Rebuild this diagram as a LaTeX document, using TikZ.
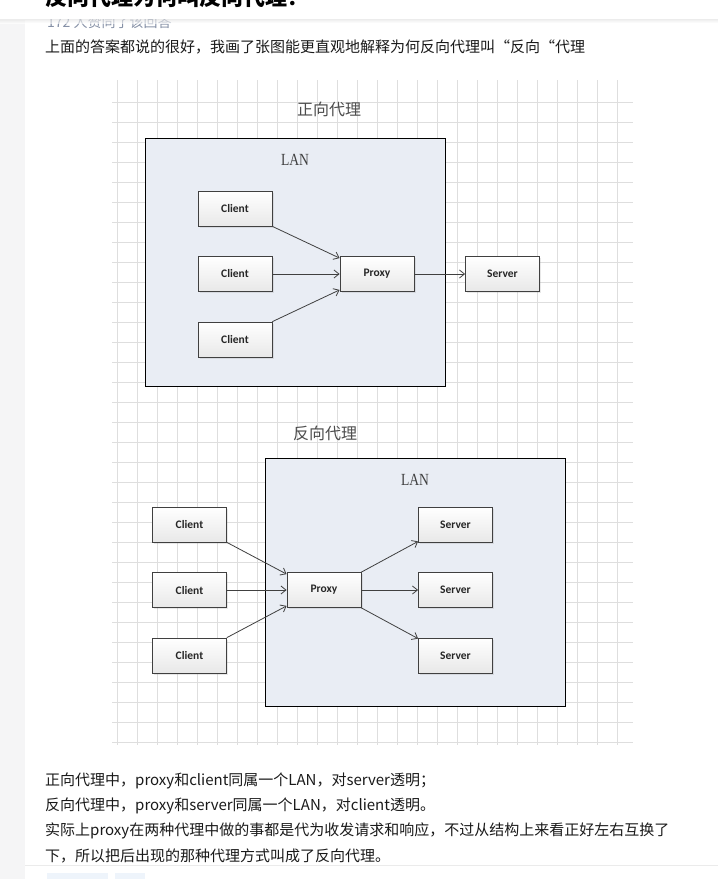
\documentclass[tikz,border=0pt]{standalone}
\usepackage{fontspec}
\setmainfont{Liberation Serif}
\newfontfamily\cjk{Noto Sans CJK SC}
\newfontfamily\boxfont{Carlito}
\usetikzlibrary{arrows.meta,shadows}

\definecolor{lanfill}{HTML}{E9EDF4}
\definecolor{pagegray}{HTML}{F5F5F6}
\definecolor{metagray}{HTML}{8590A6}
\definecolor{tagblue}{HTML}{EEF4FB}
\definecolor{bodytext}{HTML}{1A1A1A}

\tikzset{
  gridline/.style={draw=black!13,line width=0.7pt},
  lanbox/.style={draw=black,line width=1pt,fill=lanfill},
  paneltitle/.style={font=\cjk\fontsize{16}{18}\selectfont,text=black!70},
  lanlabel/.style={font=\fontsize{17}{19}\selectfont,text=black!75,xscale=0.8,transform shape},
  hostbox/.style={draw=black!75,line width=0.8pt,top color=white,bottom color=black!9,
    minimum width=74pt,minimum height=35pt,inner sep=0pt,
    font=\boxfont\bfseries\fontsize{11.5}{13}\selectfont,text=black!85,
    drop shadow={shadow xshift=1.5pt,shadow yshift=-1.5pt,opacity=0.18}},
  link/.style={draw=black!75,line width=0.8pt,-{Straight Barb[length=5pt,width=8pt]}},
  bodyline/.style={anchor=base west,inner sep=0pt,font=\cjk\fontsize{15}{20}\selectfont,text=bodytext}
}

\begin{document}
\begin{tikzpicture}[x=1pt,y=-1pt]
\useasboundingbox (0,0) rectangle (718,879);
\fill[white] (0,0) rectangle (718,879);
% ---------- page frame ----------
\fill[pagegray] (0,20) rectangle (25,879);
\node[anchor=base west,inner sep=0pt,font=\cjk\fontsize{14}{16}\selectfont,text=metagray]
  (votes) at (47,27) {172 人赞同了该回答};
\fill[white] (0,0) rectangle (718,19);
\shade[top color=black!12,bottom color=white,opacity=0.6] (0,19) rectangle (718,23);
\node[anchor=base west,inner sep=0pt,font=\cjk\bfseries\fontsize{22}{24}\selectfont,text=black]
  (question) at (45,5) {反向代理为何叫反向代理？};
\node[bodyline] (intro) at (45,52)
  {上面的答案都说的很好，我画了张图能更直观地解释为何反向代理叫“反向“代理};

% ---------- grid paper ----------
\foreach \i in {0,...,25}
  \draw[gridline] (117.3+20*\i,80) -- (117.3+20*\i,745);
\foreach \j in {0,...,32}
  \draw[gridline] (112,102.5+20*\j) -- (633,102.5+20*\j);

% ---------- forward proxy ----------
\node[paneltitle] (fwdtitle) at (329,109) {正向代理};
\draw[lanbox] (145,138) rectangle (445,386);
\node[lanlabel] (fwdlan) at (295,160) {LAN};
\node[hostbox] (fc1) at (235,208.5) {Client};
\node[hostbox] (fc2) at (235,274) {Client};
\node[hostbox] (fc3) at (235,339.5) {Client};
\node[hostbox] (fp) at (377,274) {Proxy};
\node[hostbox] (fs) at (502.5,274) {Server};
\draw[link] (fc1.south east) -- ([yshift=-2pt]fp.north west);
\draw[link] (fc2) -- (fp);
\draw[link] (fc3.north east) -- ([yshift=2pt]fp.south west);
\draw[link] (fp) -- (fs);

% ---------- reverse proxy ----------
\node[paneltitle] (revtitle) at (325,433) {反向代理};
\draw[lanbox] (265,458) rectangle (565,706);
\node[lanlabel] (revlan) at (415,480) {LAN};
\node[hostbox] (rc1) at (189.5,524.5) {Client};
\node[hostbox] (rc2) at (189.5,590) {Client};
\node[hostbox] (rc3) at (189.5,655.5) {Client};
\node[hostbox] (rp) at (324,590) {Proxy};
\node[hostbox] (rs1) at (455.5,524.5) {Server};
\node[hostbox] (rs2) at (455.5,590) {Server};
\node[hostbox] (rs3) at (455.5,655.5) {Server};
\draw[link] (rc1.south east) -- ([yshift=-2pt]rp.north west);
\draw[link] (rc2) -- (rp);
\draw[link] (rc3.north east) -- ([yshift=2pt]rp.south west);
\draw[link] (rp.north east) -- ([yshift=1pt]rs1.south west);
\draw[link] (rp) -- (rs2);
\draw[link] (rp.south east) -- ([yshift=-1pt]rs3.north west);

% ---------- explanation ----------
\node[bodyline] (line1) at (45,785) {正向代理中，proxy和client同属一个LAN，对server透明；};
\node[bodyline] (line2) at (45,810) {反向代理中，proxy和server同属一个LAN，对client透明。};
\node[bodyline] (line3) at (45,835) {实际上proxy在两种代理中做的事都是代为收发请求和响应，不过从结构上来看正好左右互换了};
\node[bodyline] (line4) at (45,861) {下，所以把后出现的那种代理方式叫成了反向代理。};
\draw[black!8,line width=0.8pt] (25,865) -- (718,865);
\fill[tagblue] (47,873) rectangle (108,885);
\fill[tagblue] (115,873) rectangle (145,885);
\end{tikzpicture}
\end{document}
